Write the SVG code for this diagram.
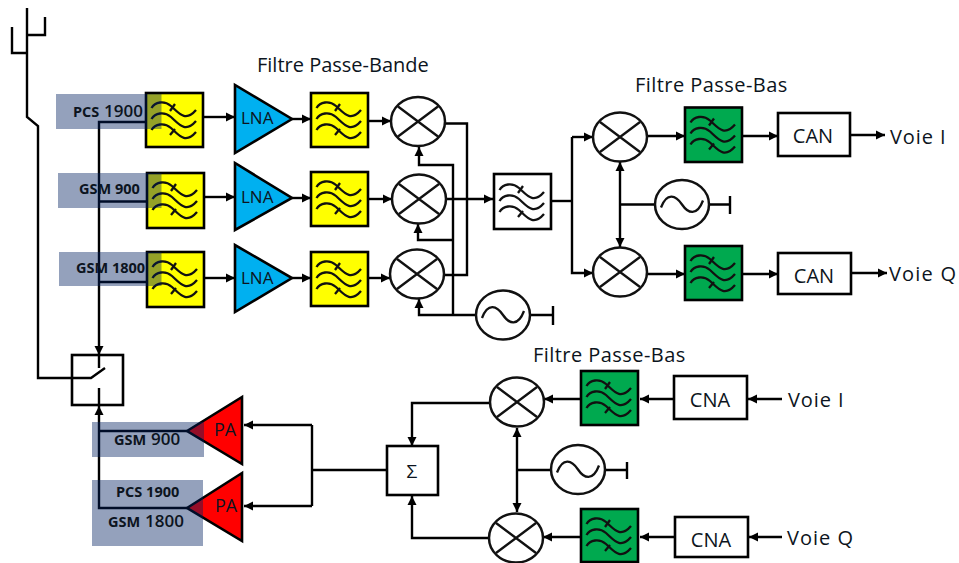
<svg xmlns="http://www.w3.org/2000/svg" width="959" height="563" viewBox="0 0 959 563">
<style>
text{font-family:"Open Sans","Noto Sans","Liberation Sans",sans-serif;fill:#0c1420}
.t{font-size:20px}
.n{font-size:17px}
.b{font-size:14.500px;font-weight:700}
.bb{font-size:17px;font-weight:600}
.box{stroke:#000;stroke-width:2.600}
.w{fill:none;stroke:#111;stroke-width:2.300}
.c{fill:none;stroke:#000;stroke-width:2.400}
.shade{fill:#002060;fill-opacity:.42}
</style>
<defs>
<marker id="a" markerUnits="userSpaceOnUse" markerWidth="12" markerHeight="12" refX="10" refY="6" orient="auto"><path d="M1 1.500L10 6L1 10.500Z" fill="#000"/></marker>
<marker id="s" markerUnits="userSpaceOnUse" markerWidth="12" markerHeight="12" refX="10" refY="6" orient="auto-start-reverse"><path d="M1 1.500L10 6L1 10.500Z" fill="#000"/></marker>
<g id="wv" class="w">
<path d="M5.500 15C9 9 18 7 25 13S39 30 50 17"/><path d="M5.500 26C9 20 18 18 25 24S39 41 50 28"/><path d="M5.500 37C9 31 18 29 25 35S39 52 50 39"/>
<path d="M24 18L29 11M24 42L29 36"/>
</g>
<g id="mx"><ellipse rx="27" ry="24.500" fill="#fff" stroke="#111" stroke-width="2.500"/><path d="M-20-15L20 15M-20 15L20-15" stroke="#111" stroke-width="2.300"/></g>
<g id="os"><ellipse rx="27" ry="24.500" fill="#fff" stroke="#111" stroke-width="2.500"/><path d="M-21 3C-15-13-6-9 0 0S15 12 21-4" class="w"/></g>
</defs>

<g id="connectors" class="c">
<path d="M27 8V117L38 126V378H91L105 368"/>
<path d="M12 27V53H27M45 17V35H27"/>
<path d="M146 122H99V355" marker-end="url(#a)"/>
<path d="M147 201.500H99M147 282H99"/>
<path d="M99 354V368M99 388V405"/>
<path d="M187 431H99M187 508H99V406" marker-end="url(#a)"/>
<path d="M203 117H235" marker-end="url(#a)"/><path d="M204 197H235" marker-end="url(#a)"/><path d="M204 278H235" marker-end="url(#a)"/>
<path d="M292 119H311" marker-end="url(#a)"/><path d="M292 198H311" marker-end="url(#a)"/><path d="M292 278H311" marker-end="url(#a)"/>
<path d="M368 121H391" marker-end="url(#a)"/><path d="M368 199H392" marker-end="url(#a)"/><path d="M368 278H390" marker-end="url(#a)"/>
<path d="M445 123.500H467V275H443"/>
<path d="M453 315V165H419V147" marker-end="url(#a)"/>
<path d="M453 240H418V224" marker-end="url(#a)"/>
<path d="M476 315H419V299" marker-end="url(#a)"/>
<path d="M530 315H553M553 306V325"/>
<path d="M446 199H493" marker-end="url(#a)"/>
<path d="M551 201H572"/>
<path d="M572 137V273H593" marker-end="url(#a)"/>
<path d="M572 137H593" marker-end="url(#a)"/>
<path d="M620 162V247" marker-start="url(#s)" marker-end="url(#s)"/>
<path d="M620 204.500H655M709 204.500H730M730 196V214"/>
<path d="M647 136H685" marker-end="url(#a)"/><path d="M647 274H685" marker-end="url(#a)"/>
<path d="M742 136H778" marker-end="url(#a)"/><path d="M742 274H778" marker-end="url(#a)"/>
<path d="M850 135H885" marker-end="url(#a)"/><path d="M851 273H887" marker-end="url(#a)"/>
<path d="M782 399H748" marker-end="url(#a)"/><path d="M782 537H749" marker-end="url(#a)"/>
<path d="M674 399H640" marker-end="url(#a)"/><path d="M675 537H640" marker-end="url(#a)"/>
<path d="M581 399H544" marker-end="url(#a)"/><path d="M581 537H543" marker-end="url(#a)"/>
<path d="M517 428V512" marker-start="url(#s)" marker-end="url(#s)"/>
<path d="M517 470H551M605 470H627M627 462V479"/>
<path d="M490 403H412V446" marker-end="url(#a)"/>
<path d="M489 538H412V496" marker-end="url(#a)"/>
<path d="M387 470H312M312 425V506"/>
<path d="M312 425H244" marker-end="url(#a)"/><path d="M312 506H244" marker-end="url(#a)"/>
</g>

<g id="filter-rx-1"><rect x="146" y="93" width="57" height="54" fill="#ff0" class="box"/><use href="#wv" x="146" y="93"/></g>
<g id="filter-rx-2"><rect x="147" y="173" width="57" height="55" fill="#ff0" class="box"/><use href="#wv" x="147" y="173"/></g>
<g id="filter-rx-3"><rect x="147" y="252" width="57" height="55" fill="#ff0" class="box"/><use href="#wv" x="147" y="252"/></g>
<g id="lna-1"><path d="M235 85V153L292 119Z" fill="#00b0f0" class="box"/><text x="241" y="124" class="n">LNA</text></g>
<g id="lna-2"><path d="M235 163V230L292 198Z" fill="#00b0f0" class="box"/><text x="241" y="203" class="n">LNA</text></g>
<g id="lna-3"><path d="M235 245V312L292 278Z" fill="#00b0f0" class="box"/><text x="241" y="284" class="n">LNA</text></g>
<g id="filter-rx-4"><rect x="311" y="93" width="57" height="54" fill="#ff0" class="box"/><use href="#wv" x="311" y="93"/></g>
<g id="filter-rx-5"><rect x="311" y="172" width="57" height="54" fill="#ff0" class="box"/><use href="#wv" x="311" y="172"/></g>
<g id="filter-rx-6"><rect x="311" y="252" width="57" height="54" fill="#ff0" class="box"/><use href="#wv" x="311" y="252"/></g>
<g id="mixer-1"><use href="#mx" x="418" y="121.500"/></g>
<g id="mixer-2"><use href="#mx" x="419" y="199"/></g>
<g id="mixer-3"><use href="#mx" x="417" y="274"/></g>
<g id="osc-rx"><use href="#os" x="503" y="315"/></g>
<g id="filter-if"><rect x="494" y="174" width="57" height="55" fill="#fff" class="box"/><use href="#wv" x="494" y="175"/></g>
<g id="mixer-i"><use href="#mx" x="620" y="137"/></g>
<g id="mixer-q"><use href="#mx" x="620" y="272"/></g>
<g id="osc-iq"><use href="#os" x="682" y="204.500"/></g>
<g id="filter-lp-i"><rect x="685" y="107.500" width="57" height="54.500" fill="#00a94f" class="box"/><use href="#wv" x="685" y="107.500"/></g>
<g id="filter-lp-q"><rect x="685" y="246" width="57" height="54" fill="#00a94f" class="box"/><use href="#wv" x="685" y="246"/></g>
<g id="can-i"><rect x="778" y="113" width="72" height="43" fill="#fff" class="box"/><text x="813" y="143" text-anchor="middle" class="t">CAN</text></g>
<g id="can-q"><rect x="778" y="253" width="73" height="41" fill="#fff" class="box"/><text x="814" y="283" text-anchor="middle" class="t">CAN</text></g>
<g id="switch"><rect x="72" y="355" width="51" height="50" fill="none" class="box"/></g>
<g id="pa-1"><path d="M187 431L242 397V464Z" fill="#f00" class="box"/><text x="214" y="436" style="font-size:18px">PA</text></g>
<g id="pa-2"><path d="M187 508L242 473V541Z" fill="#f00" class="box"/><text x="215" y="512" style="font-size:18px">PA</text></g>
<g id="sum"><rect x="387" y="446" width="51" height="49" fill="#fff" class="box"/><text x="412" y="478" text-anchor="middle" style="font-size:19px">Σ</text></g>
<g id="mixer-tx-i"><use href="#mx" x="517" y="402"/></g>
<g id="mixer-tx-q"><use href="#mx" x="516" y="538"/></g>
<g id="osc-tx"><use href="#os" x="578" y="469.500"/></g>
<g id="filter-tx-i"><rect x="581" y="371" width="57" height="54" fill="#00a94f" class="box"/><use href="#wv" x="581" y="371"/></g>
<g id="filter-tx-q"><rect x="581" y="509" width="57" height="53" fill="#00a94f" class="box"/><use href="#wv" x="581" y="509"/></g>
<g id="cna-i"><rect x="674" y="376" width="73" height="43" fill="#fff" class="box"/><text x="710" y="407" text-anchor="middle" class="t">CNA</text></g>
<g id="cna-q"><rect x="675" y="517" width="73" height="40" fill="#fff" class="box"/><text x="711" y="547" text-anchor="middle" class="t">CNA</text></g>

<g id="band-labels">
<rect x="56" y="94" width="105.500" height="35" class="shade"/>
<rect x="58" y="173" width="103.500" height="35" class="shade"/>
<rect x="59" y="252" width="102.500" height="34" class="shade"/>
<rect x="92" y="422" width="112" height="35" class="shade"/>
<rect x="92" y="480" width="111" height="66" class="shade"/>
<text y="117"><tspan x="73" class="b">PCS</tspan><tspan x="104" class="bb">1900</tspan></text>
<text x="79" y="194" class="b">GSM 900</text>
<text x="76" y="273" class="b">GSM 1800</text>
<text y="445"><tspan x="114" class="b">GSM</tspan><tspan x="151" class="bb">900</tspan></text>
<text x="116" y="497" class="b">PCS 1900</text>
<text y="527"><tspan x="108" class="b">GSM</tspan><tspan x="145" class="bb">1800</tspan></text>
</g>
<g id="labels">
<text x="257" y="72" class="t">Filtre Passe-Bande</text>
<text x="635" y="92" class="t" letter-spacing=".45">Filtre Passe-Bas</text>
<text x="533" y="362" class="t" letter-spacing=".45">Filtre Passe-Bas</text>
<text x="890" y="144" class="t" letter-spacing=".9">Voie I</text>
<text x="889" y="281" class="t" letter-spacing="1.200">Voie Q</text>
<text x="788" y="407" class="t" letter-spacing=".9">Voie I</text>
<text x="787" y="545" class="t" letter-spacing="1">Voie Q</text>
</g>
</svg>
